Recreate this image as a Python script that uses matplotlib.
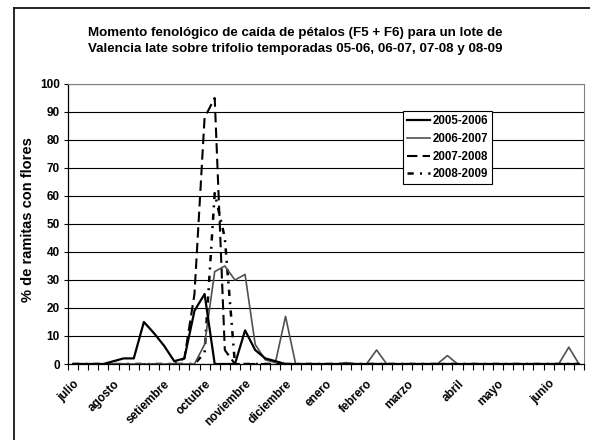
import numpy as np
import matplotlib
matplotlib.use("Agg")
import matplotlib.pyplot as plt
from matplotlib.lines import Line2D

plt.rcParams.update({
    "font.family": ["Liberation Sans", "DejaVu Sans"],
    "font.weight": "bold",
    "axes.unicode_minus": False,
})

# weekly categories, julio -> junio
N_WEEKS = 51
MONTHS = ["julio", "agosto", "setiembre", "octubre", "noviembre", "diciembre",
          "enero", "febrero", "marzo", "abril", "mayo", "junio"]
MONTH_POS = [0, 4, 9, 13, 17, 21, 25, 29, 33, 38, 42, 47]

SEASONS = ["2005-2006", "2006-2007", "2007-2008", "2008-2009"]

def weeks(points):
    v = np.zeros(N_WEEKS)
    for i, val in points.items():
        v[i] = val
    return v

s0506 = weeks({4: 1, 5: 2, 6: 2, 7: 15, 8: 11, 9: 6.5, 10: 1, 11: 2, 12: 19, 13: 25,
               17: 12, 18: 5, 19: 2, 20: 1})
s0607 = weeks({13: 7, 14: 33, 15: 35, 16: 30, 17: 32, 18: 7, 19: 1.5, 20: 0.5, 21: 17,
               27: 0.5, 30: 5, 37: 3, 49: 6})
s0708 = weeks({11: 2, 12: 25, 13: 88, 14: 95, 15: 5})
s0809 = weeks({13: 4, 14: 61, 15: 45})

W, H = 590, 440
fig = plt.figure(figsize=(W / 100, H / 100), dpi=100, facecolor="white")
L, R, T, B = 68, 584, 84, 364
ax = fig.add_axes([L / W, 1 - B / H, (R - L) / W, (B - T) / H])

x = np.arange(N_WEEKS)
ax.plot(x, s0506, color="black", lw=1.6, label=SEASONS[0], zorder=5)
ax.plot(x, s0607, color="#505050", lw=1.2, label=SEASONS[1], zorder=4)
ax.plot(x, s0708, color="black", lw=1.5, ls=(0, (5, 2.5)), label=SEASONS[2], zorder=3)
ax.plot(x, s0809, color="black", lw=1.8, ls=(0, (2.5, 2.5, 0.8, 2.5)), label=SEASONS[3], zorder=3)

ax.set_xlim(-0.5, N_WEEKS - 0.5)
ax.set_ylim(0, 100)
ax.set_yticks(np.arange(0, 101, 10))
ax.yaxis.grid(True, color="black", lw=0.8)
ax.set_axisbelow(True)
ax.tick_params(axis="y", labelsize=8.5, length=3, width=0.8, pad=3)
for t in ax.get_yticklabels():
    t.set_fontweight("bold")

ax.set_xticks(MONTH_POS)
ax.set_xticklabels(MONTHS, rotation=45, ha="right", rotation_mode="anchor", fontsize=8.5, fontweight="bold")
ax.set_xticks(np.arange(-0.5, N_WEEKS, 1), minor=True)
ax.tick_params(axis="x", which="major", length=0, pad=10)
ax.tick_params(axis="x", which="minor", length=4, width=0.8)

for s in ["top", "right"]:
    ax.spines[s].set_color("#808080")
for s in ["left", "bottom"]:
    ax.spines[s].set_color("black")
    ax.spines[s].set_linewidth(0.9)

leg = ax.legend(loc="upper left", bbox_to_anchor=((403 - L) / (R - L), (B - 111) / (B - T)),
                borderaxespad=0, prop={"weight": "bold", "size": 8.3},
                handlelength=2.0, handletextpad=0.2, labelspacing=0.5, borderpad=0.35,
                fancybox=False, framealpha=1, edgecolor="black")
leg.get_frame().set_linewidth(0.8)

fig.text(295 / W, 1 - 41 / H,
         "Momento fenológico de caída de pétalos (F5 + F6) para un lote de\n"
         "Valencia late sobre trifolio temporadas 05-06, 06-07, 07-08 y 08-09",
         ha="center", va="center", fontsize=9.6, fontweight="bold", linespacing=1.55)
fig.text(28 / W, 1 - 220 / H, "% de ramitas con flores", rotation=90,
         ha="center", va="center", fontsize=10.5, fontweight="bold")

# outer chart frame
fig.add_artist(Line2D([14 / W, 14 / W], [0, 1 - 8 / H], color="black", lw=1.2))
fig.add_artist(Line2D([14 / W, 1], [1 - 8 / H, 1 - 8 / H], color="black", lw=1.2))

fig.savefig("out.png", dpi=100, facecolor="white")
